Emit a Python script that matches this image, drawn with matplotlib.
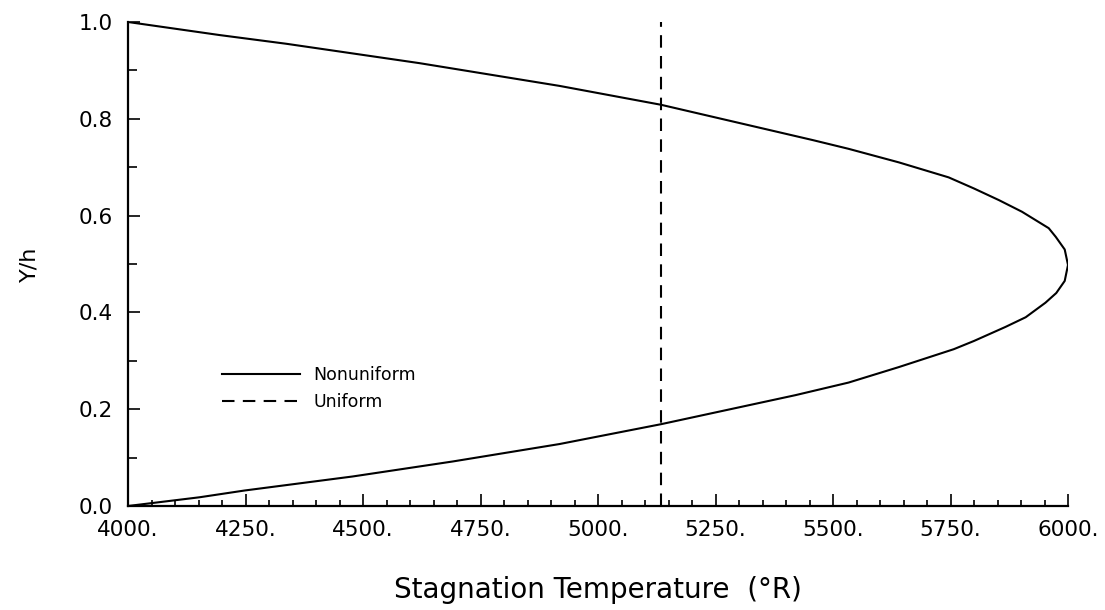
import matplotlib
matplotlib.use("Agg")
import matplotlib.pyplot as plt
from matplotlib.ticker import MultipleLocator, FuncFormatter

# Nonuniform stagnation temperature profile, ordered along curve
temp_nonuniform = [4000, 4152, 4248, 4478, 4691, 4918, 5134, 5420, 5533, 5640,
                   5757, 5800, 5867, 5910, 5952, 5975, 5993, 6000, 5993, 5974,
                   5959, 5902, 5853, 5800, 5746, 5640, 5533, 5457, 5134, 4918,
                   4620, 4337, 4195, 4000]
yh_nonuniform = [0.000, 0.018, 0.032, 0.061, 0.092, 0.128, 0.169, 0.229, 0.255, 0.287,
                 0.324, 0.341, 0.370, 0.390, 0.420, 0.440, 0.465, 0.498, 0.530, 0.556,
                 0.574, 0.608, 0.632, 0.656, 0.679, 0.710, 0.738, 0.756, 0.829, 0.868,
                 0.915, 0.955, 0.973, 1.000]

# Uniform stagnation temperature
temp_uniform = [5135, 5135]
yh_uniform = [0.0, 1.0]

series_labels = ["Nonuniform", "Uniform"]
xlabel = "Stagnation Temperature  (\u00b0R)"
ylabel = "Y/h"

plt.rcParams['font.family'] = ['DejaVu Sans']

fig = plt.figure(figsize=(11.05, 6.10), dpi=100)
ax = fig.add_axes([128 / 1105, 1 - 506 / 610, 940 / 1105, 484 / 610])

ax.plot(temp_nonuniform, yh_nonuniform, color='black', lw=1.5,
        solid_joinstyle='round', label=series_labels[0])
ax.plot(temp_uniform, yh_uniform, color='black', lw=1.5,
        linestyle=(0, (6, 4)), label=series_labels[1])

ax.set_xlim(4000, 6000)
ax.set_ylim(0, 1.0)

ax.spines['top'].set_visible(False)
ax.spines['right'].set_visible(False)
ax.spines['left'].set_linewidth(1.6)
ax.spines['bottom'].set_linewidth(1.6)

ax.xaxis.set_major_locator(MultipleLocator(250))
ax.xaxis.set_minor_locator(MultipleLocator(50))
ax.yaxis.set_major_locator(MultipleLocator(0.2))
ax.yaxis.set_minor_locator(MultipleLocator(0.1))
ax.xaxis.set_major_formatter(FuncFormatter(lambda v, p: f"{v:.0f}."))
ax.yaxis.set_major_formatter(FuncFormatter(lambda v, p: f"{v:.1f}"))

ax.tick_params(axis='x', which='major', direction='in', length=8.5, width=1.2,
               labelsize=15.5, pad=10)
ax.tick_params(axis='x', which='minor', direction='in', length=4.3, width=1.2)
ax.tick_params(axis='y', which='major', direction='in', length=8.5, width=1.2,
               labelsize=15.5, pad=11)
ax.tick_params(axis='y', which='minor', direction='in', length=6.5, width=1.2)

ax.set_xlabel(xlabel, fontsize=20, labelpad=26)
ax.set_ylabel(ylabel, fontsize=16, labelpad=28)

ax.legend(loc='upper left', bbox_to_anchor=(0.10, 0.29), frameon=False,
          fontsize=12.5, handlelength=4.5, handletextpad=0.75, labelspacing=0.55,
          borderpad=0, borderaxespad=0)

fig.savefig("out.png", dpi=100)
